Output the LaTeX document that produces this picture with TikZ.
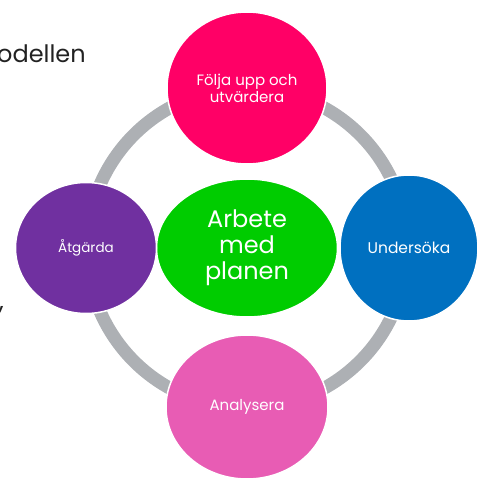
\documentclass[tikz,border=0pt]{standalone}
\usepackage{fontspec}
\setmainfont{Poppins}
\usetikzlibrary{shapes.geometric,positioning}

\definecolor{foljarosa}{RGB}{255,0,102}
\definecolor{undersokblue}{RGB}{0,112,192}
\definecolor{atgardlila}{RGB}{112,48,160}
\definecolor{plangron}{RGB}{0,204,0}
\definecolor{analysrosa}{RGB}{232,92,180}
\definecolor{ringgra}{RGB}{173,176,180}
\definecolor{textmork}{RGB}{34,34,34}

\begin{document}
\begin{tikzpicture}[x=1pt,y=-1pt,node distance=160pt,on grid,
  steg/.style={ellipse,draw=white,line width=1.5pt,text=white,align=center,inner sep=0pt},
  ring/.style={draw=ringgra,line width=13pt},
  rest/.style={text=textmork,font=\fontsize{24}{28}\selectfont,inner sep=0pt}]
  \useasboundingbox (0,0) rectangle (483,479);
  \clip (0,0) rectangle (483,479);
  % text left over from the slide
  \node[rest,anchor=base west] (rubrik) at (-3,63) {odellen};
  \node[rest,anchor=base west] (komma) at (-1,309) {,};
  % the ring behind the steps
  \coordinate (mitt) at (247,248);
  \draw[ring] (mitt) circle (160pt);
  \node[steg,fill=plangron,minimum width=181pt,minimum height=138pt,
    font=\fontsize{24}{26}\selectfont] (plan) at (mitt) {Arbete\\med\\planen};
  \node[steg,fill=foljarosa,minimum width=160pt,minimum height=152pt,
    font=\fontsize{15}{17}\selectfont] (folja) [above=of plan] {Följa upp och\\utvärdera};
  \node[steg,fill=undersokblue,minimum width=138pt,minimum height=146pt,
    font=\fontsize{15.5}{17}\selectfont] (undersok) [right=162pt of plan] {Undersöka};
  \node[steg,fill=analysrosa,minimum width=162pt,minimum height=144pt,
    font=\fontsize{15}{17}\selectfont] (analys) [below=159pt of plan] {Analysera};
  \node[steg,fill=atgardlila,minimum width=141pt,minimum height=131pt,
    font=\fontsize{13.5}{16}\selectfont] (atgard) [left=161pt of plan] {Åtgärda};
\end{tikzpicture}
\end{document}
